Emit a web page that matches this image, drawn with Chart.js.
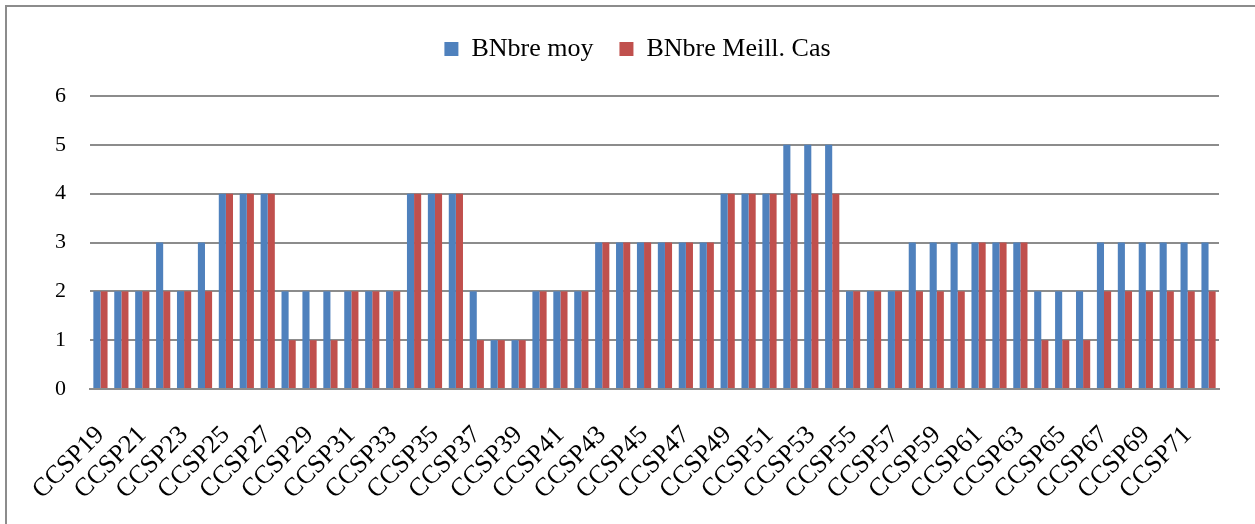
<!DOCTYPE html>
<html>
<head>
<meta charset="utf-8">
<script src="https://cdn.jsdelivr.net/npm/chart.js@4"></script>
<style>
    html, body { margin: 0; padding: 0; background: #fff; }
    #wrap { position: relative; width: 1255px; height: 524px; overflow: hidden; }
    #frame {
        position: absolute; left: 5px; top: 5px; width: 1300px; height: 600px;
        border-left: 2px solid #8c8c8c; border-top: 2px solid #8c8c8c;
        pointer-events: none;
    }
</style>
</head>
<body>
<div id="wrap">
    <canvas id="barChart" width="1255" height="524"></canvas>
    <div id="frame"></div>
</div>
<script>
// Sites CCSP19 .. CCSP72
const sites = [];
for (let n = 19; n <= 72; n++) sites.push("CCSP" + n);

// Number per site: average vs best case
const nbreMoy = [
    2, 2, 2, 3, 2, 3, 4, 4, 4, 2, 2, 2, 2, 2, 2, 4, 4, 4,
    2, 1, 1, 2, 2, 2, 3, 3, 3, 3, 3, 3, 4, 4, 4, 5, 5, 5,
    2, 2, 2, 3, 3, 3, 3, 3, 3, 2, 2, 2, 3, 3, 3, 3, 3, 3
];
const nbreMeilleurCas = [
    2, 2, 2, 2, 2, 2, 4, 4, 4, 1, 1, 1, 2, 2, 2, 4, 4, 4,
    1, 1, 1, 2, 2, 2, 3, 3, 3, 3, 3, 3, 4, 4, 4, 4, 4, 4,
    2, 2, 2, 2, 2, 2, 3, 3, 3, 1, 1, 1, 2, 2, 2, 2, 2, 2
];
const yTicks = [0, 1, 2, 3, 4, 5, 6];

const serif = "'Liberation Serif', 'DejaVu Serif', serif";
const gridGray = "#8c8c8c";

// Push the plot area down below the legend and nudge the legend right
const legendGap = {
    id: "legendGap",
    beforeInit(chart) {
        const fit = chart.legend.fit;
        chart.legend.fit = function() {
            fit.bind(chart.legend)();
            this.height += 24;
        };
    },
    afterLayout(chart) {
        chart.legend.left += 28;
        chart.legend.right += 28;
    }
};

const ctx = document.getElementById("barChart");
new Chart(ctx, {
    type: "bar",
    data: {
        labels: sites,
        datasets: [
            {
                label: "BNbre moy",
                data: nbreMoy,
                backgroundColor: "#4f81bd",
                categoryPercentage: 0.68,
                barPercentage: 1.0
            },
            {
                label: "BNbre Meill. Cas",
                data: nbreMeilleurCas,
                backgroundColor: "#c0504d",
                categoryPercentage: 0.68,
                barPercentage: 1.0
            }
        ]
    },
    options: {
        responsive: false,
        animation: false,
        layout: {
            padding: { top: 10, right: 36, bottom: 0, left: 0 }
        },
        plugins: {
            legend: {
                position: "top",
                labels: {
                    color: "#000",
                    font: { family: serif, size: 26 },
                    boxWidth: 14,
                    boxHeight: 14,
                    padding: 26
                }
            },
            tooltip: { enabled: false }
        },
        scales: {
            x: {
                grid: { display: false, drawTicks: false },
                border: { display: true, color: gridGray, width: 2 },
                ticks: {
                    color: "#000",
                    font: { family: serif, size: 26 },
                    autoSkip: false,
                    minRotation: 45,
                    maxRotation: 45,
                    padding: 31,
                    callback: function(value, index) {
                        return index % 2 === 0 ? sites[index] : "";
                    }
                },
                afterFit(scale) {
                    scale.height = 524 - 389;
                    // rotated labels should not squeeze the plot sideways
                    scale.paddingLeft = 0;
                    scale.paddingRight = 0;
                }
            },
            y: {
                min: yTicks[0],
                max: yTicks[yTicks.length - 1],
                grid: { color: gridGray, lineWidth: 2, drawTicks: false },
                border: { display: false },
                ticks: {
                    color: "#000",
                    font: { family: serif, size: 22 },
                    stepSize: 1,
                    padding: 24
                },
                afterFit(scale) {
                    scale.width = 90;
                }
            }
        }
    },
    plugins: [legendGap]
});
</script>
</body>
</html>
